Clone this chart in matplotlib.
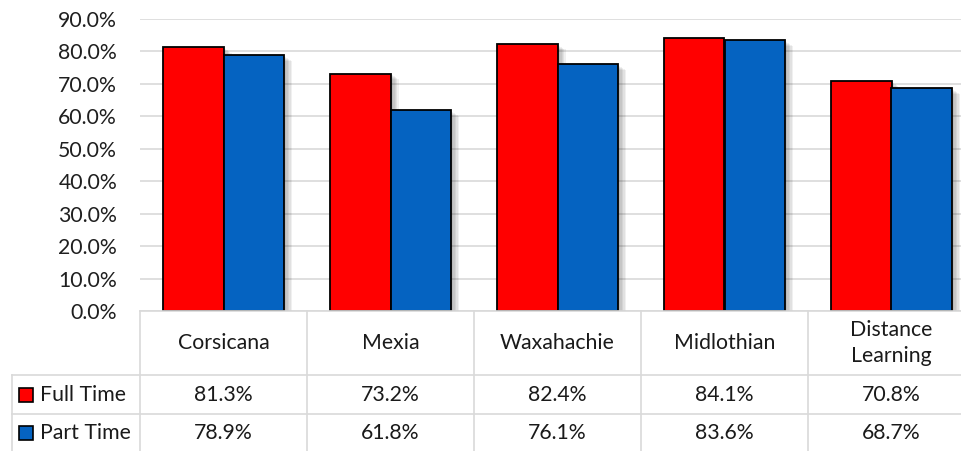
import matplotlib
matplotlib.use("Agg")
import matplotlib.pyplot as plt
import matplotlib.patheffects as pe
from matplotlib.patches import Rectangle
from matplotlib.ticker import FuncFormatter, MultipleLocator
import numpy as np

categories = ["Corsicana", "Mexia", "Waxahachie", "Midlothian", "Distance\nLearning"]
series_names = ["Full Time", "Part Time"]
full_time = [81.3, 73.2, 82.4, 84.1, 70.8]
part_time = [78.9, 61.8, 76.1, 83.6, 68.7]
colors = ["#FF0000", "#0563C1"]

plt.rcParams['font.family'] = ['Lato', 'DejaVu Sans']
FS = 15.3

W, H = 961, 451
fig = plt.figure(figsize=(W / 100, H / 100), dpi=100)

def fy(py):
    return 1 - py / H

ax = fig.add_axes([140 / W, fy(311), 835 / W, 292 / H])
tax = fig.add_axes([140 / W, fy(453), 835 / W, (453 - 311) / H], sharex=ax)

x = np.arange(len(categories))
bw = 0.36
shadow = [pe.SimplePatchShadow(offset=(d, -d * 0.7), shadow_rgbFace='black', alpha=0.06)
          for d in (1.0, 2.0, 3.0, 4.0, 5.0, 6.0)] + [pe.Normal()]
offsets = [-bw / 2, bw / 2]
for vals, col, off in zip([full_time, part_time], colors, offsets):
    bars = ax.bar(x + off, [v / 100 for v in vals], width=bw,
                  color=col, edgecolor='black', linewidth=1.3, zorder=3)
    for b in bars:
        b.set_path_effects(shadow)

ax.set_xlim(-0.5, len(categories) - 0.5)
ax.set_ylim(0, 0.9)
ax.yaxis.set_major_locator(MultipleLocator(0.1))
ax.yaxis.set_major_formatter(FuncFormatter(lambda v, p: f"{v*100:.1f}%"))
ax.grid(axis='y', color='#D9D9D9', linewidth=1.2, zorder=0)
ax.set_axisbelow(True)
for s in ax.spines.values():
    s.set_visible(False)
ax.tick_params(axis='y', length=0, pad=16.5, labelsize=FS, labelcolor='#1f1f1f')
ax.tick_params(axis='x', length=0, labelbottom=False)
ax.set_facecolor('none')

# data table
tax.set_ylim(453, 311)
tax.axis('off')
lc = '#D9D9D9'
lw = 1.2
n = len(categories)
x_left = -0.5 - 128 / 167
for k in range(n + 1):
    tax.plot([k - 0.5, k - 0.5], [311, 453], color=lc, lw=lw, clip_on=False)
tax.plot([x_left, x_left], [375, 453], color=lc, lw=lw, clip_on=False)
for yy in (375, 414):
    tax.plot([x_left, n - 0.5], [yy, yy], color=lc, lw=lw, clip_on=False)
tax.plot([-0.5, n - 0.5], [311, 311], color=lc, lw=lw, clip_on=False)

for i, c in enumerate(categories):
    tax.text(i, 343, c, ha='center', va='center', fontsize=FS, color='#1a1a1a', linespacing=1.42)

row_y = [395, 433]
for r, (name, vals, col) in enumerate(zip(series_names, [full_time, part_time], colors)):
    for i, v in enumerate(vals):
        tax.text(i, row_y[r], f"{v:.1f}%", ha='center', va='center', fontsize=FS, color='#1a1a1a')
    kx0 = -0.5 + (19 - 140) / 167
    kw = 14 / 167
    tax.add_patch(Rectangle((kx0, row_y[r] - 7), kw, 14, facecolor=col, edgecolor='black',
                            lw=1.2, clip_on=False))
    tax.text(-0.5 + (40 - 140) / 167, row_y[r], name, ha='left', va='center', fontsize=FS,
             color='#1a1a1a')

fig.savefig("out.png", dpi=100)
